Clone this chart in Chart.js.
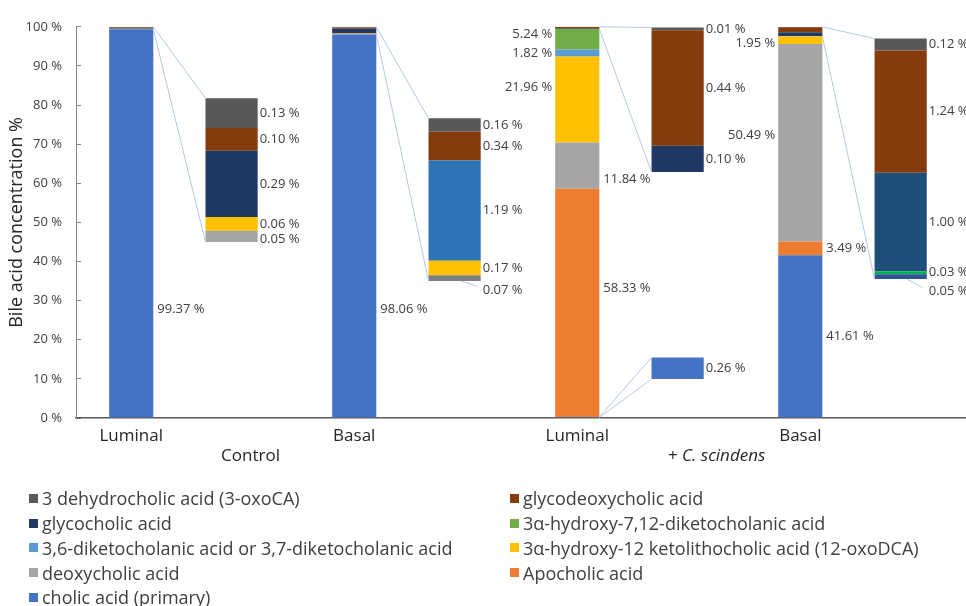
<!DOCTYPE html>
<html>
<head>
<meta charset="utf-8">
<script src="https://cdn.jsdelivr.net/npm/chart.js@4.4.1/dist/chart.umd.min.js"></script>
<style>
  html, body { margin: 0; padding: 0; background: #fff; }
  #wrap { position: relative; width: 966px; height: 606px; overflow: hidden; }
  #chart { position: absolute; left: 0; top: 0; }
  #legend {
    position: absolute; left: 29px; top: 486px;
    display: grid; grid-template-columns: 481px 440px;
    font-family: 'Open Sans', sans-serif; font-size: 18px; color: #404040;
  }
  .legend-item { display: flex; align-items: center; height: 24.75px; white-space: nowrap; }
  .legend-box { width: 9px; height: 9px; margin-right: 4px; flex: none; }
</style>
</head>
<body>
<div id="wrap">
  <canvas id="chart" width="966" height="606"></canvas>
  <div id="legend"></div>
</div>
<script>
const samples = ['Luminal', 'Basal', 'Luminal', 'Basal'];
const groups = ['Control', '+ C. scindens'];
const yTickValues = [0, 10, 20, 30, 40, 50, 60, 70, 80, 90, 100];

// series in stacking order, bottom of the bar first
const seriesNames = [
  'cholic acid (primary)',
  'Apocholic acid',
  'deoxycholic acid',
  '3\u03b1-hydroxy-12 ketolithocholic acid (12-oxoDCA)',
  '3,6-diketocholanic acid or 3,7-diketocholanic acid',
  '3\u03b1-hydroxy-7,12-diketocholanic acid',
  'glycocholic acid',
  'glycodeoxycholic acid',
  '3 dehydrocholic acid (3-oxoCA)'
];
const cholic = [99.37, 98.06, 0.26, 41.61];
const apocholic = [0, 0, 58.33, 3.49];
const deoxycholic = [0.05, 0.07, 11.84, 50.49];
const oxoDCA = [0.06, 0.17, 21.96, 1.95];
const diketo36 = [0, 0, 1.82, 0.05];
const diketo712 = [0, 0, 5.24, 0.03];
const glycocholic = [0.29, 1.19, 0.10, 1.00];
const glycodeoxycholic = [0.10, 0.34, 0.44, 1.24];
const oxoCA = [0.13, 0.16, 0.01, 0.12];
const seriesValues = [cholic, apocholic, deoxycholic, oxoDCA, diketo36, diketo712, glycocholic, glycodeoxycholic, oxoCA];

const seriesColors = ['#4472C4', '#ED7D31', '#A5A5A5', '#FFC000', '#5B9BD5', '#70AD47', '#203864', '#843C0C', '#595959'];
// the magnified copies use a few other shades ("sample-series")
const zoomColors = { '1-2': '#7F7F7F', '1-6': '#2E75B6', '3-4': '#2F5597', '3-5': '#00B050', '3-6': '#1F4E79' };

// magnified insets next to each bar: which segments, where the inset starts and how much it is stretched
const insets = [
  { sample: 0, series: [2, 3, 6, 7, 8], base: 44.96, factor: 58.4 },
  { sample: 1, series: [2, 3, 6, 7, 8], base: 35.0, factor: 21.55 },
  { sample: 2, series: [6, 7, 8], base: 62.86, factor: 67.2 },
  { sample: 2, series: [0], base: 9.95, factor: 21.1 },
  { sample: 3, series: [4, 5, 6, 7, 8], base: 35.5, factor: 25.2 }
];

// labels of the big bars: [sample, series, side, axis value where the label sits (null = middle)]
const mainLabels = [
  [0, 0, 'right', 27.9],
  [1, 0, 'right', 27.9],
  [2, 1, 'right', 33.2],
  [2, 2, 'right', 61.1],
  [2, 3, 'left', 84.6],
  [2, 4, 'left', null],
  [2, 5, 'left', 98.1],
  [3, 0, 'right', null],
  [3, 1, 'right', null],
  [3, 2, 'left', 72.2],
  [3, 3, 'left', 95.8]
];
// inset labels pushed down (px), some with a leader line
const zoomLabelShift = { '0-2': 3, '1-2': 12, '3-4': 15 };
const leaderLabels = ['1-2', '3-4'];
const groupLabelAt = [0.31, 2.40];

const nSeries = seriesNames.length;
const datasets = [];

seriesNames.forEach(function (name, s) {
  const data = [];
  samples.forEach(function (_, i) {
    const v = seriesValues[s][i];
    if (!v) return;
    let lo = 0;
    for (let k = 0; k < s; k++) lo += seriesValues[k][i];
    data.push({ x: i, y: [lo, lo + v], v: v });
  });
  datasets.push({
    label: name, stack: 'main', data: data,
    backgroundColor: seriesColors[s],
    barPercentage: 0.44, categoryPercentage: 0.9
  });
});

seriesNames.forEach(function (name, s) {
  const data = [];
  const colors = [];
  insets.forEach(function (inset) {
    const k = inset.series.indexOf(s);
    if (k < 0) return;
    const i = inset.sample;
    let lo = 0;
    for (let j = 0; j < k; j++) lo += seriesValues[inset.series[j]][i];
    const v = seriesValues[s][i];
    data.push({ x: i, y: [inset.base + lo * inset.factor, inset.base + (lo + v) * inset.factor], v: v });
    colors.push(zoomColors[i + '-' + s] || seriesColors[s]);
  });
  datasets.push({
    label: name, stack: 'zoom', data: data,
    backgroundColor: colors,
    barPercentage: 0.52, categoryPercentage: 0.9
  });
});

function barEl(chart, ds, sample) {
  const idx = chart.data.datasets[ds].data.findIndex(d => d.x === sample);
  return idx < 0 ? null : chart.getDatasetMeta(ds).data[idx];
}

function pct(v) {
  return v.toFixed(2) + ' %';
}

const connectorPlugin = {
  id: 'connectors',
  afterDatasetsDraw(chart) {
    const ctx = chart.ctx;
    ctx.save();
    ctx.strokeStyle = '#B4C7E7';
    ctx.lineWidth = 1;
    insets.forEach(function (inset) {
      const first = inset.series[0];
      const last = inset.series[inset.series.length - 1];
      const mLow = barEl(chart, first, inset.sample);
      const mHigh = barEl(chart, last, inset.sample);
      const zLow = barEl(chart, nSeries + first, inset.sample);
      const zHigh = barEl(chart, nSeries + last, inset.sample);
      ctx.beginPath();
      ctx.moveTo(mHigh.x + mHigh.width / 2, mHigh.y);
      ctx.lineTo(zHigh.x - zHigh.width / 2, zHigh.y);
      ctx.moveTo(mLow.x + mLow.width / 2, mLow.base);
      ctx.lineTo(zLow.x - zLow.width / 2, zLow.base);
      ctx.stroke();
    });
    ctx.restore();
  }
};

const labelPlugin = {
  id: 'valueLabels',
  afterDatasetsDraw(chart) {
    const ctx = chart.ctx;
    const y = chart.scales.y;
    ctx.save();
    ctx.font = '13px "Open Sans"';
    ctx.fillStyle = '#404040';
    ctx.textBaseline = 'middle';
    mainLabels.forEach(function (l) {
      const el = barEl(chart, l[1], l[0]);
      const ly = l[3] === null ? (el.y + el.base) / 2 : y.getPixelForValue(l[3]);
      const text = pct(seriesValues[l[1]][l[0]]);
      if (l[2] === 'right') {
        ctx.textAlign = 'left';
        ctx.fillText(text, el.x + el.width / 2 + 4, ly);
      } else {
        ctx.textAlign = 'right';
        ctx.fillText(text, el.x - el.width / 2 - 3, ly);
      }
    });
    ctx.textAlign = 'left';
    insets.forEach(function (inset) {
      inset.series.forEach(function (s) {
        const key = inset.sample + '-' + s;
        const el = barEl(chart, nSeries + s, inset.sample);
        const lx = el.x + el.width / 2 + 2;
        const ly = (el.y + el.base) / 2 + (zoomLabelShift[key] || 0);
        ctx.fillText(pct(seriesValues[s][inset.sample]), lx, ly);
        if (leaderLabels.indexOf(key) >= 0) {
          ctx.strokeStyle = '#B4C7E7';
          ctx.lineWidth = 1;
          ctx.beginPath();
          ctx.moveTo(el.x + el.width * 0.12, el.base);
          ctx.lineTo(lx - 6, ly - 4);
          ctx.stroke();
        }
      });
    });
    ctx.restore();
  }
};

const categoryPlugin = {
  id: 'categoryLabels',
  afterDraw(chart) {
    const ctx = chart.ctx;
    const x = chart.scales.x;
    ctx.save();
    ctx.fillStyle = '#262626';
    ctx.textBaseline = 'alphabetic';
    ctx.textAlign = 'center';
    ctx.font = '17px "Open Sans"';
    samples.forEach(function (name, i) {
      const el = barEl(chart, 0, i);
      ctx.fillText(name, el.x, 441);
    });
    groups.forEach(function (name, g) {
      const cx = x.getPixelForValue(groupLabelAt[g]);
      if (name.indexOf('+ ') === 0) {
        // species name in italics
        const plain = '+ ';
        const ital = name.slice(2);
        ctx.font = '17px "Open Sans"';
        const w1 = ctx.measureText(plain).width;
        ctx.font = 'italic 17px "Open Sans"';
        const w2 = ctx.measureText(ital).width;
        const left = cx - (w1 + w2) / 2;
        ctx.textAlign = 'left';
        ctx.font = '17px "Open Sans"';
        ctx.fillText(plain, left, 461);
        ctx.font = 'italic 17px "Open Sans"';
        ctx.fillText(ital, left + w1, 461);
        ctx.textAlign = 'center';
        ctx.font = '17px "Open Sans"';
      } else {
        ctx.fillText(name, cx, 461);
      }
    });
    ctx.restore();
  }
};

const chart = new Chart(document.getElementById('chart'), {
  type: 'bar',
  data: { datasets: datasets },
  options: {
    responsive: false,
    animation: false,
    devicePixelRatio: 1,
    layout: { padding: { top: 23, right: 0, bottom: 0, left: 0 } },
    plugins: {
      legend: { display: false },
      tooltip: { enabled: false }
    },
    scales: {
      x: {
        type: 'linear',
        stacked: true,
        offset: false,
        min: -0.4726,
        max: 3.518,
        afterBuildTicks: function (scale) {
          scale.ticks = samples.map((_, i) => ({ value: i }));
        },
        afterFit: function (scale) { scale.height = 188; },
        ticks: { display: false },
        grid: { display: false, offset: false },
        border: { color: '#595959', width: 1.5 }
      },
      y: {
        stacked: false,
        min: 0,
        max: 100,
        afterBuildTicks: function (scale) {
          scale.ticks = yTickValues.map(v => ({ value: v }));
        },
        afterFit: function (scale) { scale.width = 76; },
        ticks: {
          padding: 19,
          color: '#404040',
          font: { family: 'Open Sans', size: 13 },
          callback: v => v + ' %'
        },
        grid: { drawOnChartArea: false, drawTicks: true, tickLength: -5, color: '#868686' },
        border: { color: '#868686', width: 1 },
        title: {
          display: true,
          text: 'Bile acid concentration %',
          color: '#262626',
          font: { family: 'Open Sans', size: 18 },
          padding: { top: 6, bottom: 0 }
        }
      }
    }
  },
  plugins: [connectorPlugin, labelPlugin, categoryPlugin]
});

// legend: top of the stack first, two columns
const legend = document.getElementById('legend');
for (let s = nSeries - 1; s >= 0; s--) {
  const item = document.createElement('div');
  item.className = 'legend-item';
  const box = document.createElement('span');
  box.className = 'legend-box';
  box.style.background = chart.data.datasets[s].backgroundColor;
  const text = document.createElement('span');
  text.textContent = chart.data.datasets[s].label;
  item.appendChild(box);
  item.appendChild(text);
  legend.appendChild(item);
}
</script>
</body>
</html>
